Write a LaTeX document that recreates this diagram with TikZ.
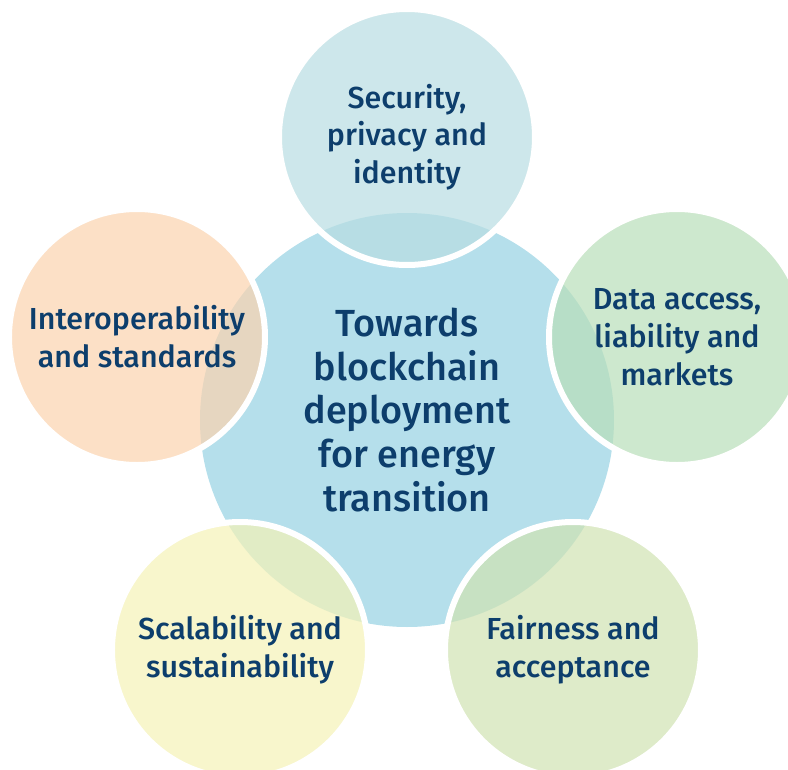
\documentclass[tikz,border=0pt]{standalone}
\usepackage{fontspec}
\setmainfont{Fira Sans}
\newfontfamily\firamedium{Fira Sans Medium}
\usepackage{tikz}
\usetikzlibrary{shapes.geometric}
\definecolor{textblue}{RGB}{13,62,108}
\definecolor{centreblue}{RGB}{181,223,235}
\definecolor{topblue}{RGB}{184,221,226}
\definecolor{peach}{RGB}{251,211,174}
\definecolor{datagreen}{RGB}{184,222,185}
\definecolor{paleyellow}{RGB}{245,242,182}
\definecolor{fairgreen}{RGB}{208,226,178}

\begin{document}
\begin{tikzpicture}[
  centre/.style={circle, fill=centreblue, minimum size=8.28cm, inner sep=0pt,
    align=center, text=textblue, font=\firamedium\fontsize{21.5}{25}\selectfont},
  topic/.style={circle, fill=#1, fill opacity=0.7, text opacity=1,
    draw=white, draw opacity=1, line width=0.12cm, minimum size=5.12cm,
    inner sep=0pt, align=center, text=textblue,
    font=\firamedium\fontsize{17.3}{21.5}\selectfont}
]
\useasboundingbox (-8.14,-6.98) rectangle (7.62,8.4);
\node[centre] (core) at (0,0) {};
\node[align=center, text=textblue, font=\firamedium\fontsize{21.5}{25}\selectfont]
  (coretext) at (0,0.2) {Towards\\blockchain\\deployment\\for energy\\transition};
\node[topic=topblue] (security) at (0,5.66) {Security,\\privacy and\\identity};
\node[topic=peach] (interop) at (-5.4,1.66) {Interoperability\\and standards};
\node[topic=datagreen] (data) at (5.4,1.66) {Data access,\\liability and\\markets};
\node[topic=paleyellow] (scale) at (-3.34,-4.6) {Scalability and\\sustainability};
\node[topic=fairgreen] (fair) at (3.32,-4.6) {Fairness and\\acceptance};
\end{tikzpicture}
\end{document}
